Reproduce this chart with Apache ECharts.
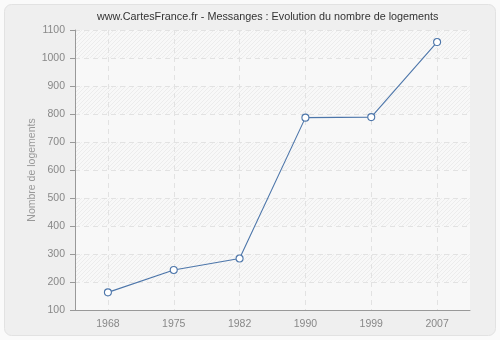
<!DOCTYPE html>
<html><head><meta charset="utf-8">
<script src="https://cdn.jsdelivr.net/npm/echarts@6/dist/echarts.min.js"></script>
<style>html,body{margin:0;padding:0;background:#fafafa}#c{width:500px;height:340px}</style>
</head><body><div id="c"></div>
<script>
const titleText = 'www.CartesFrance.fr - Messanges : Evolution du nombre de logements';
const yAxisName = 'Nombre de logements';
const years = ['1968', '1975', '1982', '1990', '1999', '2007'];
const logements = [163, 243, 284, 787, 789, 1057];
const yMin = 100, yMax = 1100, yStep = 100;

function hatch() {
  const c = document.createElement('canvas');
  c.width = 4; c.height = 4;
  const g = c.getContext('2d');
  g.fillStyle = '#f8f8f8'; g.fillRect(0, 0, 4, 4);
  g.strokeStyle = '#ececec'; g.lineWidth = 1;
  g.beginPath(); g.moveTo(0, 4); g.lineTo(4, 0); g.stroke();
  g.beginPath(); g.moveTo(-1, 1); g.lineTo(1, -1); g.stroke();
  g.beginPath(); g.moveTo(3, 5); g.lineTo(5, 3); g.stroke();
  return c;
}
const chart = echarts.init(document.getElementById('c'), null, {renderer: 'canvas'});
const font = 'Liberation Sans';
chart.setOption({
  backgroundColor: '#fafafa',
  animation: false,
  graphic: [{
    type: 'rect', z: -10, silent: true,
    shape: {x: 4.5, y: 4.5, width: 491, height: 331, r: 7},
    style: {fill: '#efefef', stroke: '#e2e2e2', lineWidth: 1}
  }, {
    type: 'text', left: 97, top: 12, silent: true,
    style: {text: titleText, fontFamily: font, fontSize: 10.8, fill: '#333'}
  }],
  grid: {left: 75, right: 30, top: 30, bottom: 30},
  xAxis: {
    type: 'category', data: years, boundaryGap: true,
    axisLine: {lineStyle: {color: '#999'}},
    axisTick: {alignWithLabel: true, length: 5, lineStyle: {color: '#999'}},
    axisLabel: {color: '#888', fontFamily: font, fontSize: 10.5, margin: 9},
    splitLine: {show: true, alignWithLabel: true, lineStyle: {color: '#e2e2e2', type: [5, 4]}}
  },
  yAxis: {
    type: 'value', min: yMin, max: yMax, interval: yStep,
    name: yAxisName, nameLocation: 'middle', nameGap: 37, nameMoveOverlap: false,
    nameTextStyle: {color: '#999', fontFamily: font, fontSize: 10.5},
    axisLine: {show: true, lineStyle: {color: '#999'}},
    axisTick: {show: true, length: 5, lineStyle: {color: '#999'}},
    axisLabel: {color: '#888', fontFamily: font, fontSize: 10.5, margin: 10, formatter: v => String(v)},
    splitLine: {show: true, lineStyle: {color: '#e2e2e2', type: [5, 4]}},
    splitArea: {show: true, areaStyle: {color: ['#f8f8f8', {image: hatch(), repeat: 'repeat'}]}}
  },
  series: [{
    type: 'line', data: logements,
    symbol: 'circle', symbolSize: 7,
    lineStyle: {color: '#4d76aa', width: 1.1},
    itemStyle: {color: '#fff', borderColor: '#4d76aa', borderWidth: 1.1}
  }]
});
</script></body></html>
